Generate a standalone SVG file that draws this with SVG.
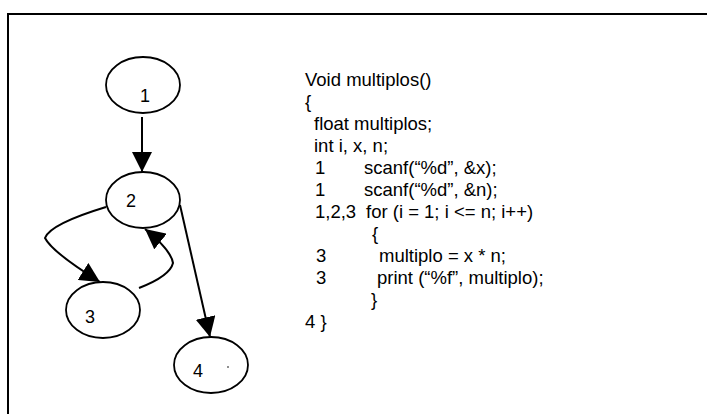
<svg xmlns="http://www.w3.org/2000/svg" width="707" height="414" viewBox="0 0 707 414">
  <defs>
    <marker id="arrow" markerUnits="userSpaceOnUse" markerWidth="20" markerHeight="20" viewBox="0 0 18 18" refX="18" refY="9" orient="auto">
      <path d="M0,0 L18,9 L0,18 Z" fill="#000"/>
    </marker>
    <style>
      .node ellipse { fill: #fff; stroke: #000; stroke-width: 1.8; }
      .node text { font-family: "Liberation Sans", Arial, sans-serif; font-size: 18px; fill: #000; }
      .edge { fill: none; stroke: #000; stroke-width: 2; marker-end: url(#arrow); }
      .code text { font-family: "Liberation Sans", Arial, sans-serif; font-size: 18.5px; fill: #000; }
    </style>
  </defs>
  <rect width="707" height="414" fill="#fff"/>

  <!-- frame: top and left border only -->
  <path d="M8,414 V14 H707" fill="none" stroke="#000" stroke-width="2"/>

  <!-- connectors -->
  <g id="edges">
    <path class="edge" d="M142,117 V172"/>
    <path class="edge" d="M180,205 L210,337"/>
    <path class="edge" d="M106,207 Q50,224 45,238 Q52,252 100,282"/>
    <path class="edge" d="M139,288 Q170,276 173,263 Q171,250 145,229"/>
  </g>

  <!-- flow graph nodes -->
  <g id="node1" class="node">
    <ellipse cx="143" cy="85" rx="37" ry="28"/>
    <text x="140" y="102">1</text>
  </g>
  <g id="node2" class="node">
    <ellipse cx="143" cy="200" rx="37" ry="28"/>
    <text x="126" y="207">2</text>
  </g>
  <g id="node3" class="node">
    <ellipse cx="103" cy="310" rx="37" ry="28"/>
    <text x="85" y="323">3</text>
  </g>
  <g id="node4" class="node">
    <ellipse cx="211" cy="365" rx="37" ry="28"/>
    <text x="193" y="377">4</text>
    <circle cx="228" cy="367" r="0.8" fill="#000"/>
  </g>

  <!-- source listing -->
  <g id="code" class="code">
    <text x="305" y="86">Void multiplos()</text>
    <text x="305" y="108">{</text>
    <text x="314" y="130">float multiplos;</text>
    <text x="314" y="152">int i, x, n;</text>
    <text x="315" y="174">1</text>
    <text x="364" y="174">scanf(“%d”, &amp;x);</text>
    <text x="315" y="196">1</text>
    <text x="364" y="196">scanf(“%d”, &amp;n);</text>
    <text x="315" y="218">1,2,3</text>
    <text x="366" y="218">for (i = 1; i &lt;= n; i++)</text>
    <text x="372" y="240">{</text>
    <text x="316" y="262">3</text>
    <text x="379" y="262">multiplo = x * n;</text>
    <text x="316" y="284">3</text>
    <text x="377" y="284">print (“%f”, multiplo);</text>
    <text x="371" y="306">}</text>
    <text x="305" y="328">4 }</text>
  </g>
</svg>
